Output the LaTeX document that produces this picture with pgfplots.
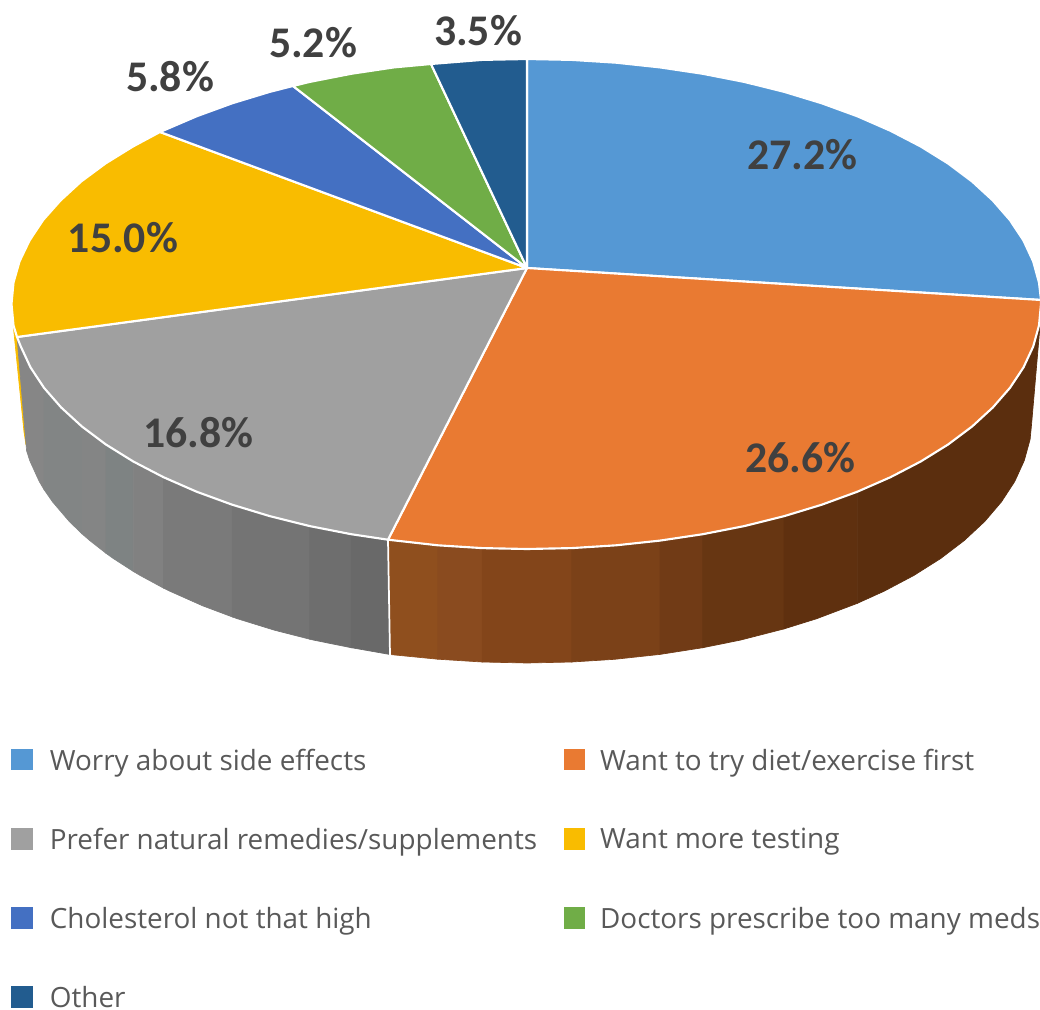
\documentclass[border=0pt]{standalone}
\usepackage{fontspec}
\setmainfont{Open Sans}
\newfontfamily\lblfont{Carlito}
\usepackage{pgfplots}
\pgfplotsset{compat=1.18}
\definecolor{cBlue}{HTML}{5598D4}
\definecolor{cOrange}{HTML}{E97A32}
\definecolor{cGray}{HTML}{A0A0A0}
\definecolor{cYellow}{HTML}{F9BC00}
\definecolor{cDBlue}{HTML}{4470C2}
\definecolor{cGreen}{HTML}{70AD47}
\definecolor{cNavy}{HTML}{225C8F}
\definecolor{cText}{HTML}{404040}
\definecolor{cLeg}{HTML}{595959}
\definecolor{ga}{HTML}{868686}
\definecolor{gb}{HTML}{828585}
\definecolor{gc}{HTML}{848585}
\definecolor{gd}{HTML}{7E8383}
\definecolor{ge}{HTML}{818181}
\definecolor{gf}{HTML}{7A7A7A}
\definecolor{gg}{HTML}{747474}
\definecolor{gh}{HTML}{6E6E6E}
\definecolor{gi}{HTML}{696969}
\definecolor{oa}{HTML}{8F4F1E}
\definecolor{ob}{HTML}{8A4B1F}
\definecolor{oc}{HTML}{83451A}
\definecolor{od}{HTML}{7B4118}
\definecolor{oe}{HTML}{713B16}
\definecolor{of}{HTML}{673612}
\definecolor{og}{HTML}{5F300F}
\definecolor{oh}{HTML}{5B2E0E}
\pgfplotsset{slab/.style={forget plot,fill=#1,draw=#1,line width=0.5pt},
 top/.style={fill=#1,draw=white,line width=1.6pt,line join=round}}
\tikzset{lab/.style={font=\lblfont\bfseries\fontsize{32.8}{36}\selectfont,text=cText,inner sep=0pt,anchor=center}}
\begin{document}
\begin{tikzpicture}
\path[use as bounding box] (0,0) rectangle (780pt,757.5pt);
\begin{axis}[at={(0,0)},anchor=south west,scale only axis,width=780pt,height=757.5pt,xmin=0,xmax=1040,ymin=0,ymax=1010,y dir=reverse,
 axis lines=none,no marks,
 legend columns=2,
 legend cell align=left,
 legend image code/.code={\fill[#1,draw=none] (0pt,-8.2pt) rectangle (16.2pt,8.2pt);},
 legend style={draw=none,fill=none,inner sep=0pt,outer sep=0pt,at={(0.0105,0.002)},anchor=south west,
   font=\fontsize{20.9}{24}\selectfont,text=cLeg,
   nodes={inner sep=0pt,text depth=0pt},
   /tikz/column 1/.style={column sep=13pt},
   /tikz/column 2/.style={column sep=20pt},
   /tikz/column 3/.style={column sep=11pt},
   row sep=43pt}]
% yellow sliver on the side
\addplot[slab=cYellow] coordinates {(13.5,328)(17,337)(26,445)(24,432)} -- cycle;
% gray side
\addplot[slab=ga] coordinates {(17,337)(20.8,346.5)(30.5,367.4)(44,387.8)(44,489.5)(39.2,481.4)(29.7,460.5)(26.6,450.8)} -- cycle;
\addplot[slab=gb] coordinates {(44,387.8)(61.2,407.5)(81.9,426.5)(81.9,533.7)(69.3,521.5)(52.5,501.8)(44,489.5)} -- cycle;
\addplot[slab=gc] coordinates {(81.9,426.5)(105.9,444.5)(105.9,553.2)(89.7,540.5)(81.9,533.7)} -- cycle;
\addplot[slab=gd] coordinates {(105.9,444.5)(133.3,461.5)(133.3,571.4)(113.3,558.5)(105.9,553.2)} -- cycle;
\addplot[slab=ge] coordinates {(133.3,461.5)(163.5,477.2)(163.5,588.1)(140.2,575.5)(133.3,571.4)} -- cycle;
\addplot[slab=gf] coordinates {(163.5,477.2)(196.6,491.7)(232.2,504.7)(232.2,616.9)(202.4,605.7)(169.9,591.2)(163.5,588.1)} -- cycle;
\addplot[slab=gg] coordinates {(232.2,504.7)(270,516.2)(309.8,526.1)(309.8,639.2)(274.5,630.2)(237.3,618.7)(232.2,616.9)} -- cycle;
\addplot[slab=gh] coordinates {(309.8,526.1)(351.2,534.2)(351.2,647.7)(313.6,640.1)(309.8,639.2)} -- cycle;
\addplot[slab=gi] coordinates {(351.2,534.2)(388,539.7)(390,654.5)(354.3,648.2)(351.2,647.7)} -- cycle;
% orange side
\addplot[slab=oa] coordinates {(388,539.7)(437.8,545.3)(437.8,659.2)(390,654.5)} -- cycle;
\addplot[slab=ob] coordinates {(437.8,545.3)(482.2,548.1)(482.2,662)(437.8,659.2)} -- cycle;
\addplot[slab=oc] coordinates {(482.2,548.1)(527,549)(571.8,548.1)(571.8,662)(527,663)(482.2,662)} -- cycle;
\addplot[slab=od] coordinates {(571.8,548.1)(616.2,545.3)(660,540.6)(660,654.4)(614.7,659.3)(571.8,662)} -- cycle;
\addplot[slab=oe] coordinates {(660,540.6)(702.8,534.2)(702.8,647.7)(660,654.4)} -- cycle;
\addplot[slab=of] coordinates {(702.8,534.2)(744.2,526.1)(784,516.2)(784,628.9)(740.4,640.1)(702.8,647.7)} -- cycle;
\addplot[slab=og] coordinates {(784,516.2)(821.8,504.7)(857.4,491.7)(857.4,603.3)(816.7,618.7)(784,628.9)} -- cycle;
\addplot[slab=oh] coordinates {(857.4,491.7)(890.5,477.2)(920.7,461.5)(948.1,444.5)(972.1,426.5)(992.8,407.5)(1010,387.8)(1023.5,367.4)(1033.2,346.5)(1039,325.4)(1040.7,318)(1031.5,425)(1030.1,439.4)(1024.3,460.5)(1014.8,481.4)(1001.5,501.8)(984.7,521.5)(964.3,540.5)(940.7,558.5)(913.8,575.5)(884.1,591.2)(857.4,603.3)} -- cycle;
% boundary on the side
\addplot[draw=white,line width=1.3pt,forget plot] coordinates {(388,539.7)(390,655)};
% top faces
\addplot[top=cBlue] coordinates {(527,268)(527,59)(571.8,59.9)(616.2,62.7)(660,67.4)(702.8,73.8)(744.2,81.9)(784,91.8)(821.8,103.3)(857.4,116.3)(890.5,130.8)(920.7,146.5)(948.1,163.5)(972.1,181.5)(992.8,200.5)(1010,220.2)(1023.5,240.6)(1033.2,261.5)(1039,282.6)(1041,300)} -- cycle;
\addlegendentry{Worry about side effects}
\addplot[top=cOrange] coordinates {(527,268)(1041,300)(1041,304)(1039,325.4)(1033.2,346.5)(1023.5,367.4)(1010,387.8)(992.8,407.5)(972.1,426.5)(948.1,444.5)(920.7,461.5)(890.5,477.2)(857.4,491.7)(821.8,504.7)(784,516.2)(744.2,526.1)(702.8,534.2)(660,540.6)(616.2,545.3)(571.8,548.1)(527,549)(482.2,548.1)(437.8,545.3)(388,539.7)} -- cycle;
\addlegendentry{Want to try diet/exercise first}
\addplot[top=cGray] coordinates {(527,268)(388,539.7)(351.2,534.2)(309.8,526.1)(270,516.2)(232.2,504.7)(196.6,491.7)(163.5,477.2)(133.3,461.5)(105.9,444.5)(81.9,426.5)(61.2,407.5)(44,387.8)(30.5,367.4)(20.8,346.5)(17,337)} -- cycle;
\addlegendentry{Prefer natural remedies/supplements}
\addplot[top=cYellow] coordinates {(527,268)(17,337)(13.5,325.4)(11.5,304)(13.5,282.6)(19.5,261.5)(29.5,240.6)(43,220.2)(60.5,200.5)(81.2,181.5)(105.5,163.5)(133,146.5)(160,132)} -- cycle;
\addlegendentry{Want more testing}
\addplot[top=cDBlue] coordinates {(527,268)(160,132)(196.6,116.3)(232.2,103.3)(270,91.8)(293,86)} -- cycle;
\addlegendentry{Cholesterol not that high}
\addplot[top=cGreen] coordinates {(527,268)(293,86)(309.8,81.9)(351.2,73.8)(394,67.4)(431,64)} -- cycle;
\addlegendentry{Doctors prescribe too many meds}
\addplot[top=cNavy] coordinates {(527,268)(431,64)(482.2,59.9)(527,59)} -- cycle;
\addlegendentry{Other}
% data labels
\node[lab] at (axis cs:802.5,155) {27.2\%};
\node[lab] at (axis cs:800.5,458) {26.6\%};
\node[lab] at (axis cs:198.5,433) {16.8\%};
\node[lab] at (axis cs:123,238) {15.0\%};
\node[lab] at (axis cs:170,77) {5.8\%};
\node[lab] at (axis cs:313,43) {5.2\%};
\node[lab] at (axis cs:478,31) {3.5\%};
\end{axis}
\end{tikzpicture}
\end{document}
